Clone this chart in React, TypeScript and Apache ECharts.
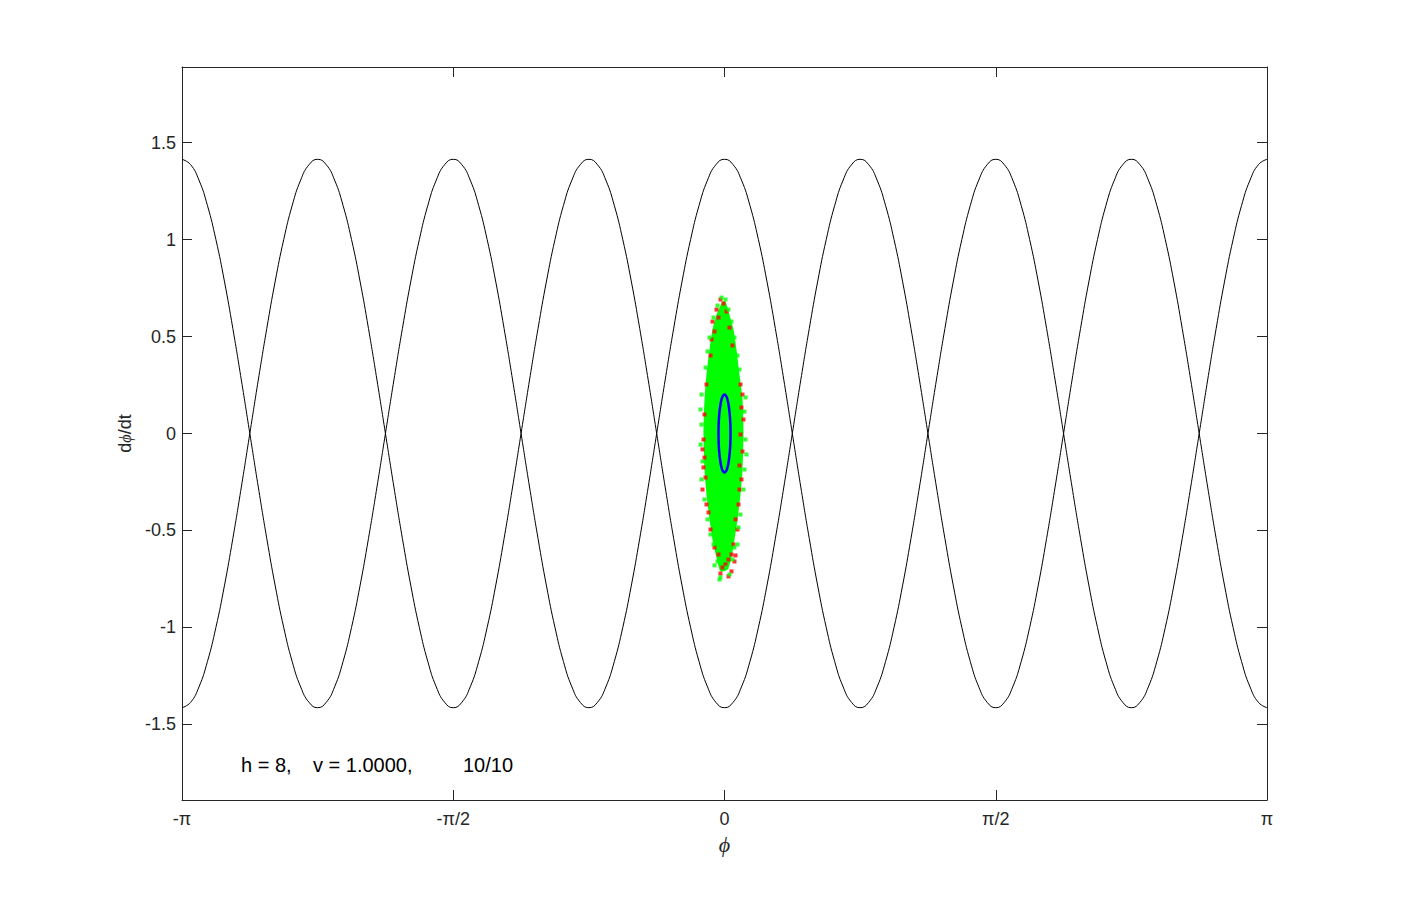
import React, { useEffect, useRef } from "react";
import * as echarts from "echarts";

// φ is expressed in units of π on the x axis
const xTickLabels: Record<string, string> = { "-1": "-π", "-0.5": "-π/2", "0": "0", "0.5": "π/2", "1": "π" };
const phiStart = -1;
const phiStep = 1 / 64;

// separatrix dφ/dt values read at φ = -π + k·π/64
const separatrixUpper = [
  1.414, 1.387, 1.307, 1.176, 1.0, 0.786, 0.541, 0.276, 0, -0.276, -0.541, -0.786, -1.0, -1.176, -1.307, -1.387,
  -1.414, -1.387, -1.307, -1.176, -1.0, -0.786, -0.541, -0.276, 0, 0.276, 0.541, 0.786, 1.0, 1.176, 1.307, 1.387,
  1.414, 1.387, 1.307, 1.176, 1.0, 0.786, 0.541, 0.276, 0, -0.276, -0.541, -0.786, -1.0, -1.176, -1.307, -1.387,
  -1.414, -1.387, -1.307, -1.176, -1.0, -0.786, -0.541, -0.276, 0, 0.276, 0.541, 0.786, 1.0, 1.176, 1.307, 1.387,
  1.414, 1.387, 1.307, 1.176, 1.0, 0.786, 0.541, 0.276, 0, -0.276, -0.541, -0.786, -1.0, -1.176, -1.307, -1.387,
  -1.414, -1.387, -1.307, -1.176, -1.0, -0.786, -0.541, -0.276, 0, 0.276, 0.541, 0.786, 1.0, 1.176, 1.307, 1.387,
  1.414, 1.387, 1.307, 1.176, 1.0, 0.786, 0.541, 0.276, 0, -0.276, -0.541, -0.786, -1.0, -1.176, -1.307, -1.387,
  -1.414, -1.387, -1.307, -1.176, -1.0, -0.786, -0.541, -0.276, 0, 0.276, 0.541, 0.786, 1.0, 1.176, 1.307, 1.387,
  1.414,
];
const separatrixLower = [
  -1.414, -1.387, -1.307, -1.176, -1.0, -0.786, -0.541, -0.276, 0, 0.276, 0.541, 0.786, 1.0, 1.176, 1.307, 1.387,
  1.414, 1.387, 1.307, 1.176, 1.0, 0.786, 0.541, 0.276, 0, -0.276, -0.541, -0.786, -1.0, -1.176, -1.307, -1.387,
  -1.414, -1.387, -1.307, -1.176, -1.0, -0.786, -0.541, -0.276, 0, 0.276, 0.541, 0.786, 1.0, 1.176, 1.307, 1.387,
  1.414, 1.387, 1.307, 1.176, 1.0, 0.786, 0.541, 0.276, 0, -0.276, -0.541, -0.786, -1.0, -1.176, -1.307, -1.387,
  -1.414, -1.387, -1.307, -1.176, -1.0, -0.786, -0.541, -0.276, 0, 0.276, 0.541, 0.786, 1.0, 1.176, 1.307, 1.387,
  1.414, 1.387, 1.307, 1.176, 1.0, 0.786, 0.541, 0.276, 0, -0.276, -0.541, -0.786, -1.0, -1.176, -1.307, -1.387,
  -1.414, -1.387, -1.307, -1.176, -1.0, -0.786, -0.541, -0.276, 0, 0.276, 0.541, 0.786, 1.0, 1.176, 1.307, 1.387,
  1.414, 1.387, 1.307, 1.176, 1.0, 0.786, 0.541, 0.276, 0, -0.276, -0.541, -0.786, -1.0, -1.176, -1.307, -1.387,
  -1.414,
];

// dense green core of the particle cloud: [φ/π, dφ/dt]
const cloudOutline: [number, number][] = [
  [-0.0037, 0.68], [-0.0147, 0.613], [-0.0221, 0.536], [-0.0276, 0.433], [-0.0332, 0.304],
  [-0.0369, 0.175], [-0.0387, 0], [-0.0369, -0.186], [-0.0332, -0.314], [-0.0276, -0.443],
  [-0.0221, -0.546], [-0.0147, -0.639], [-0.0074, -0.711], [0.0055, -0.701], [0.0129, -0.639],
  [0.0184, -0.546], [0.024, -0.443], [0.0295, -0.314], [0.0332, -0.186], [0.035, 0],
  [0.0332, 0.175], [0.0276, 0.304], [0.0221, 0.433], [0.0166, 0.536], [0.0092, 0.613], [0.0018, 0.68],
];

const redPoints: [number, number][] = [
  [-0.0074, 0.691], [-0.0018, 0.67], [-0.0147, 0.639], [0.0037, 0.629], [-0.0221, 0.577], [-0.0111, 0.598],
  [-0.0184, 0.526], [0.0092, 0.546], [-0.024, 0.485], [0.0147, 0.454], [-0.0258, 0.402], [-0.0332, 0.253],
  [-0.0369, 0.098], [-0.0387, -0.031], [-0.0405, -0.082], [-0.0369, -0.124], [-0.0387, -0.175], [-0.035, -0.227],
  [-0.0405, -0.289], [-0.0332, -0.366], [-0.0295, -0.407], [0.0295, 0.253], [0.0332, 0.201], [0.0313, 0.134],
  [0.035, 0.072], [0.0295, -0.005], [0.0332, -0.093], [0.0276, -0.165], [0.0313, -0.237], [0.0276, -0.289],
  [0.0258, -0.366], [0.0203, -0.443], [0.024, -0.495], [-0.0258, -0.495], [0.0166, -0.572], [-0.0184, -0.588],
  [0.0129, -0.624], [-0.0111, -0.624], [0.0074, -0.65], [0.0018, -0.675], [0.0184, -0.66], [-0.0037, -0.691],
  [0.0129, -0.711], [0.0074, -0.737], [-0.0074, -0.722], [0.0203, -0.629],
];

const greenPoints: [number, number][] = [
  [-0.0055, 0.701], [0.0018, 0.691], [-0.0129, 0.66], [0.0074, 0.639], [-0.0203, 0.598], [0.0129, 0.577],
  [-0.0276, 0.495], [0.0184, 0.495], [-0.0313, 0.423], [0.024, 0.402], [-0.035, 0.34], [0.0276, 0.33],
  [-0.0424, 0.201], [0.0387, 0.186], [-0.0442, 0.124], [0.0369, 0.113], [-0.0424, 0.046], [0.0387, -0.031],
  [-0.0442, -0.057], [0.0405, -0.108], [-0.0405, -0.144], [0.0369, -0.186], [-0.0424, -0.237], [0.035, -0.289],
  [-0.0369, -0.34], [0.0295, -0.418], [-0.0313, -0.443], [0.0258, -0.485], [-0.0258, -0.521], [0.0184, -0.588],
  [-0.0203, -0.572], [0.0147, -0.65], [-0.0129, -0.66], [0.0037, -0.691], [-0.0184, -0.68], [-0.0074, -0.742],
  [0.0092, -0.727], [-0.0092, -0.753], [0.024, -0.572],
];

// blue mean ellipse: [φ/π, dφ/dt]
const meanEllipse: [number, number][] = [
  [0.0111, 0], [0.0107, 0.052], [0.0096, 0.1005], [0.0078, 0.142], [0.0056, 0.174], [0.0029, 0.194],
  [0, 0.201], [-0.0029, 0.194], [-0.0056, 0.174], [-0.0078, 0.142], [-0.0096, 0.1005], [-0.0107, 0.052],
  [-0.0111, 0], [-0.0107, -0.052], [-0.0096, -0.1005], [-0.0078, -0.142], [-0.0056, -0.174], [-0.0029, -0.194],
  [0, -0.201], [0.0029, -0.194], [0.0056, -0.174], [0.0078, -0.142], [0.0096, -0.1005], [0.0107, -0.052],
  [0.0111, 0],
];

const annotationParts = ["h = 8,", "v = 1.0000,", "10/10"];

const AXIS_COLOR = "#262626";
const SANS = "'Liberation Sans', Arial, sans-serif";
const SERIF = "'Liberation Serif', 'Times New Roman', serif";

export default function App() {
  const ref = useRef<HTMLDivElement>(null);

  useEffect(() => {
    if (!ref.current) return;
    const chart = echarts.init(ref.current, undefined, { renderer: "svg" });

    const toXY = (arr: number[]) => arr.map((y, i) => [phiStart + i * phiStep, y]);

    const tickCommon = { show: true, inside: true, length: 10, lineStyle: { color: AXIS_COLOR, width: 1 } };
    const lineCommon = { show: true, onZero: false, lineStyle: { color: AXIS_COLOR, width: 1 } };
    const yLabelFmt = (v: number) => (Math.abs(v * 2 - Math.round(v * 2)) < 1e-6 ? String(Math.round(v * 2) / 2) : "");

    const option: any = {
      animation: false,
      backgroundColor: "#ffffff",
      grid: { left: 182, right: 134, top: 67, bottom: 100, containLabel: false },
      xAxis: [
        {
          type: "value", min: -1, max: 1, interval: 0.5, position: "bottom",
          axisLine: lineCommon, axisTick: tickCommon, splitLine: { show: false },
          axisLabel: {
            color: AXIS_COLOR, fontSize: 18, fontFamily: SANS, margin: 10,
            formatter: (v: number) => xTickLabels[String(Math.round(v * 2) / 2)] ?? "",
          },
          name: "ϕ", nameLocation: "middle", nameGap: 33,
          nameTextStyle: { color: AXIS_COLOR, fontFamily: SERIF, fontStyle: "italic", fontSize: 22 },
        },
        {
          type: "value", min: -1, max: 1, interval: 0.5, position: "top",
          axisLine: lineCommon, axisTick: tickCommon, splitLine: { show: false }, axisLabel: { show: false },
        },
      ],
      yAxis: [
        {
          type: "value", min: -1.89, max: 1.89, splitNumber: 8, position: "left",
          axisLine: lineCommon, axisTick: tickCommon, splitLine: { show: false },
          axisLabel: { color: AXIS_COLOR, fontSize: 18, fontFamily: SANS, margin: 6, formatter: yLabelFmt, showMinLabel: false, showMaxLabel: false },
          name: "{n|d}{p|ϕ}{n|/dt}", nameLocation: "middle", nameGap: 46, nameRotate: 90,
          nameTextStyle: {
            color: AXIS_COLOR,
            rich: {
              n: { fontFamily: SANS, fontSize: 18, color: AXIS_COLOR },
              p: { fontFamily: SERIF, fontStyle: "italic", fontSize: 16, color: AXIS_COLOR },
            },
          },
        },
        {
          type: "value", min: -1.89, max: 1.89, splitNumber: 8, position: "right",
          axisLine: lineCommon, axisTick: tickCommon, splitLine: { show: false }, axisLabel: { show: false },
        },
      ],
      series: [
        {
          type: "line", data: toXY(separatrixUpper), smooth: true, showSymbol: false, symbol: "none",
          lineStyle: { color: "#000000", width: 1 }, z: 1, silent: true,
        },
        {
          type: "line", data: toXY(separatrixLower), smooth: true, showSymbol: false, symbol: "none",
          lineStyle: { color: "#000000", width: 1 }, z: 1, silent: true,
        },
        {
          type: "custom", data: [[0, 0]], z: 2, silent: true,
          renderItem: (_params: any, api: any) => ({
            type: "polygon",
            shape: { points: cloudOutline.map((p) => api.coord(p)), smooth: 0.2 },
            style: { fill: "#00ff00" },
          }),
        },
        {
          type: "scatter", data: redPoints, symbol: "rect", symbolSize: 4, z: 3, silent: true,
          itemStyle: { color: "#ff0000" },
        },
        {
          type: "scatter", data: greenPoints, symbol: "rect", symbolSize: 4, z: 4, silent: true,
          itemStyle: { color: "#00ff00" },
        },
        {
          type: "line", data: meanEllipse, smooth: true, showSymbol: false, symbol: "none",
          lineStyle: { color: "#0000ff", width: 2.5 }, z: 5, silent: true,
        },
      ],
      graphic: [
        { type: "text", left: 241, top: 755, style: { text: annotationParts[0], fill: "#000", font: `20px ${SANS}` } },
        { type: "text", left: 313, top: 755, style: { text: annotationParts[1], fill: "#000", font: `20px ${SANS}` } },
        { type: "text", left: 463, top: 755, style: { text: annotationParts[2], fill: "#000", font: `20px ${SANS}` } },
      ],
    };

    chart.setOption(option);
    return () => chart.dispose();
  }, []);

  return <div ref={ref} style={{ position: "fixed", left: 0, top: 0, width: 1401, height: 900 }} />;
}
